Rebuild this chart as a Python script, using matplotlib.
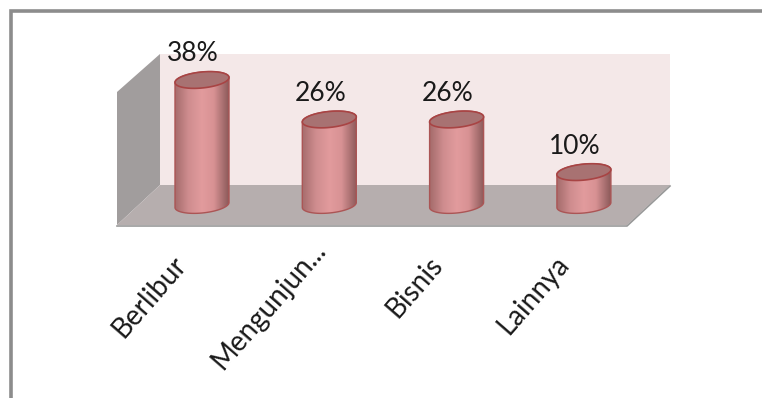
import numpy as np
import matplotlib
matplotlib.use("Agg")
import matplotlib.pyplot as plt
from matplotlib.patches import Polygon
from matplotlib.transforms import Affine2D
from matplotlib.colors import LinearSegmentedColormap

categories = ["Berlibur", "Mengunjun...", "Bisnis", "Lainnya"]
values = [38, 26, 26, 10]
labels = ["38%", "26%", "26%", "10%"]

W, H = 764, 398
plt.rcParams['font.family'] = ['Lato', 'DejaVu Sans']

fig = plt.figure(figsize=(W / 100, H / 100), dpi=100)
ax = fig.add_axes([0, 0, 1, 1])
ax.axis("off")

#---- scales: category 0 sits at pixel x=202, value 0 at pixel y=205
x0, dx = 202, 127.3
y0, dy = 205, 3.29
xlim = (-x0 / dx, (W - x0) / dx)
ylim = ((y0 - H) / dy, y0 / dy)

# box and frame are drawn in image pixels (y going down)
px = Affine2D().scale(1, -1).translate(0, H)

#----- frame
ax.plot([11, 11, W - 2], [H, 11, 11], color="#8c8c8c", lw=2.6, transform=px,
        solid_joinstyle="miter", solid_capstyle="butt", zorder=1)

#----- 3D box
ax.add_patch(Polygon([(160, 54), (670, 54), (670, 185), (160, 185)],
                     fc="#f4e8e8", ec="none", transform=px, zorder=2))
ax.add_patch(Polygon([(117, 92), (160, 54), (160, 185), (117, 225)],
                     fc="#a19d9d", ec="none", transform=px, zorder=2))
ax.add_patch(Polygon([(117, 225), (160, 185), (670, 185), (627, 225)],
                     fc="#b6aeae", ec="none", transform=px, zorder=2))
ax.plot([117, 627, 670], [226, 226, 186], color="#989898", lw=1.2,
        transform=px, zorder=2)

#----- cylinders
half_w = 27 / dx
tilt = 2.5 / dy
rise = 8 / dy
t = np.linspace(0, 2 * np.pi, 120)
shade = LinearSegmentedColormap.from_list(
    "cyl", [(0, "#a56c6c"), (0.25, "#cf8d8f"), (0.5, "#e29b9d"),
            (0.72, "#d89294"), (1, "#8c5a5a")])
grad = np.linspace(0, 1, 128).reshape(1, -1)

# the labels do not line up on one anchor in the original, shifts in pixels
shift_x = [-20, -8, -19, -20]
shift_y = [55, 40, 55, 55]

for i, v in enumerate(values):
    # side is traced from the left end over the bottom edge to the right end
    s = np.linspace(np.pi, 2 * np.pi, 60)
    bx = i + half_w * np.cos(s)
    by = tilt * np.cos(s) + rise * np.sin(s)
    tx = i + half_w * np.cos(s[::-1])
    ty = v + tilt * np.cos(s[::-1]) - rise * np.sin(s[::-1])
    body = Polygon(np.column_stack([np.r_[bx, tx], np.r_[by, ty]]), closed=True,
                   fc="none", ec="#ab5555", lw=1.0, zorder=5)
    ax.add_patch(body)
    img = ax.imshow(grad, cmap=shade, aspect="auto", zorder=4,
                    extent=(i - half_w, i + half_w, -rise * 1.5, v + rise * 1.5))
    img.set_clip_path(body)

    ex = i + half_w * np.cos(t)
    ey = v + tilt * np.cos(t) + rise * np.sin(t)
    ax.add_patch(Polygon(np.column_stack([ex, ey]), closed=True, fc="#a87272",
                         ec="#a84444", lw=1.2, zorder=6))

    ax.annotate(labels[i], (i, v), xytext=(-9 * 0.72, 26 * 0.72),
                textcoords="offset points", ha="center", va="center",
                fontsize=19, color="#1a1a1a", zorder=7)

    ax.annotate(categories[i], (i, 0),
                xytext=(0.72 * shift_x[i], -0.72 * shift_y[i]),
                textcoords="offset points", ha="right", va="center",
                rotation=49, rotation_mode="anchor", fontsize=20,
                color="#1a1a1a", zorder=7)

ax.set_xlim(xlim)
ax.set_ylim(ylim)
fig.savefig("out.png", dpi=100, facecolor="white")
